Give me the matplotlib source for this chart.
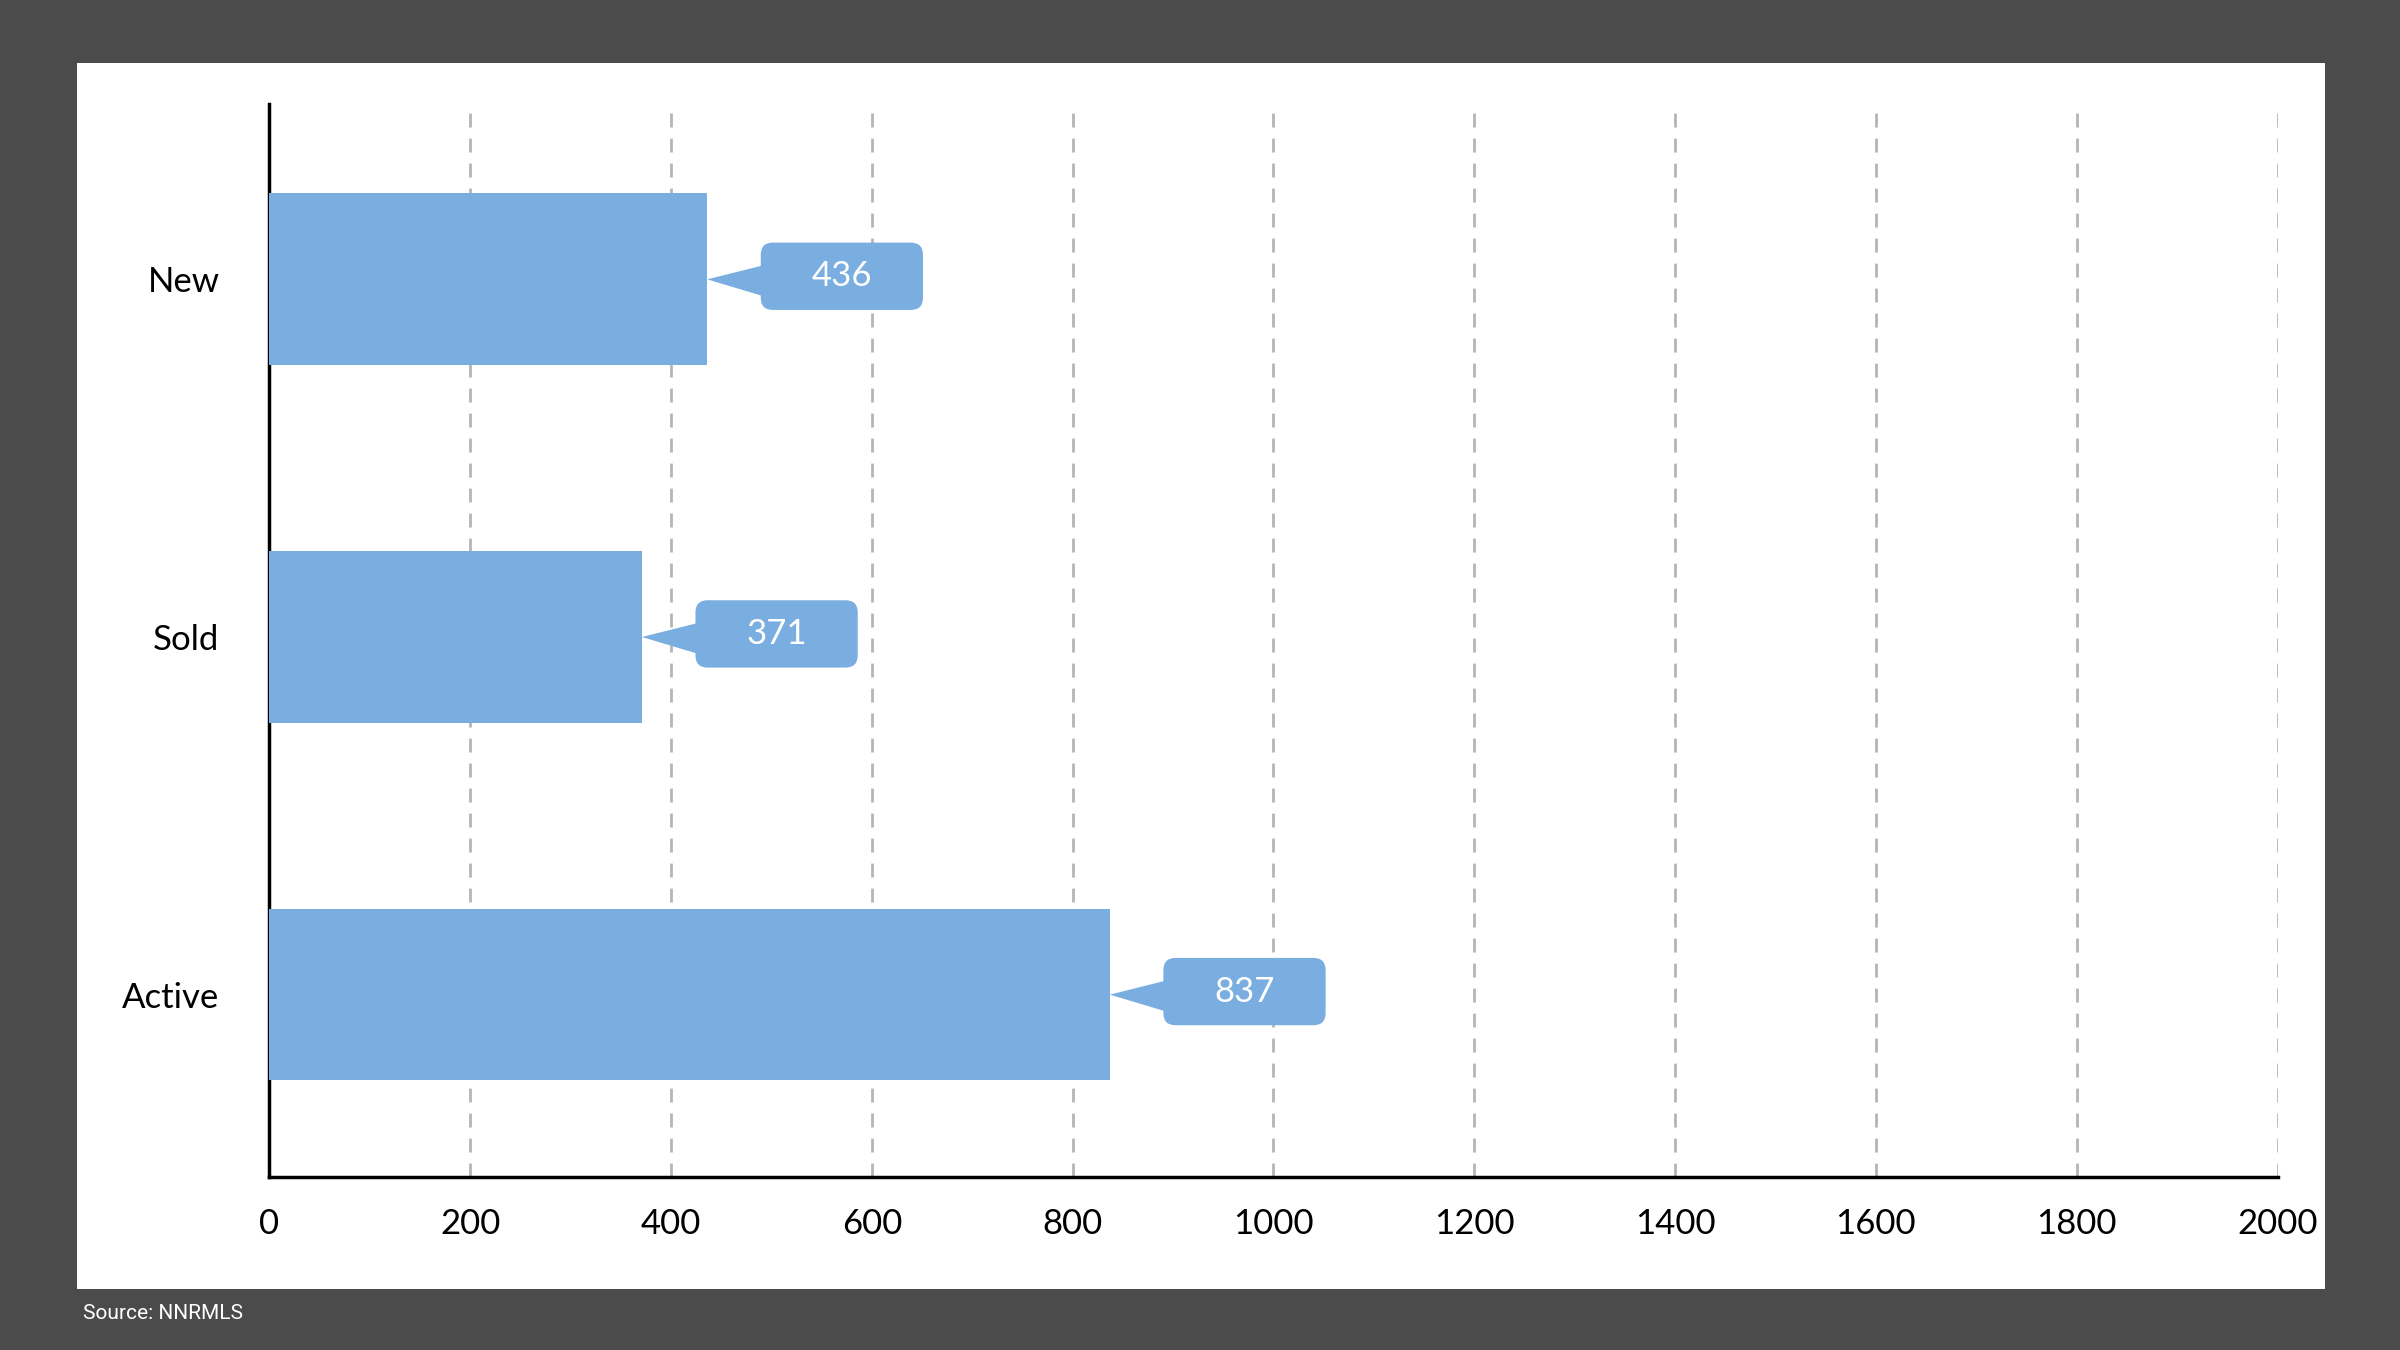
import numpy as np
import matplotlib.pyplot as plt
from matplotlib.patches import FancyBboxPatch, Polygon, Rectangle

categories = ['Active', 'Sold', 'New']
values = [837, 371, 436]
xticks = [0, 200, 400, 600, 800, 1000, 1200, 1400, 1600, 1800, 2000]

BAR = '#7aaee0'
FONT = 'Lato'

fig = plt.figure(figsize=(24, 13.5), dpi=100)
fig.patch.set_facecolor('#4b4b4b')
# white panel
fig.patches.append(Rectangle((50/1568, 1-842/882), (1519-50)/1568, (842-41)/882,
                             transform=fig.transFigure, facecolor='white', zorder=-1))

ax = fig.add_axes([176/1568, 1-769/882, (1488-176)/1568, (769-68)/882])
ax.set_zorder(2)
ax.set_facecolor('none')
ax.set_xlim(0, 2000)
ax.set_ylim(-0.51, 2.49)

y = np.arange(len(categories))
ax.barh(y, values, height=0.48, color=BAR, zorder=3)

# callouts
upx = 2000 / 1312   # data units per reference pixel (x)
upy = 3.0 / 701     # data units per reference pixel (y)
for yi, v in zip(y, values):
    bx = v + 35 * upx
    bw = 106 * upx
    bh = 44 * upy
    ax.add_patch(Polygon([(v, yi), (bx + 5 * upx, yi + 10 * upy), (bx + 5 * upx, yi - 12 * upy)],
                         closed=True, color=BAR, zorder=4, lw=0))
    ax.add_patch(FancyBboxPatch((bx, yi - bh / 2 + 2 * upy), bw, bh,
                                boxstyle=f'round,pad=0,rounding_size={8*upx}',
                                mutation_aspect=upy / upx, color=BAR, zorder=4, lw=0))
    ax.text(bx + bw / 2, yi + 2 * upy, str(v), ha='center', va='center',
            color='white', fontsize=25, family=FONT, zorder=5)

ax.set_yticks(y)
ax.set_yticklabels(categories, fontsize=25, family=FONT)
ax.set_xticks(xticks)
ax.set_xticklabels([str(t) for t in xticks], fontsize=25, family=FONT)
ax.tick_params(length=0, pad=22)
ax.tick_params(axis='y', pad=36)
ax.grid(axis='x', linestyle=(0, (5, 4)), color='#b5b5b5', lw=2, zorder=1)
for s in ['top', 'right']:
    ax.spines[s].set_visible(False)
for s in ['left', 'bottom']:
    ax.spines[s].set_linewidth(2.5)
    ax.spines[s].set_color('black')

fig.text(54/1568, 1-858/882, 'Source: NNRMLS', color='white', fontsize=15,
         family='Roboto', stretch='condensed', va='center')

fig.savefig('out.png', dpi=100, facecolor=fig.get_facecolor())
